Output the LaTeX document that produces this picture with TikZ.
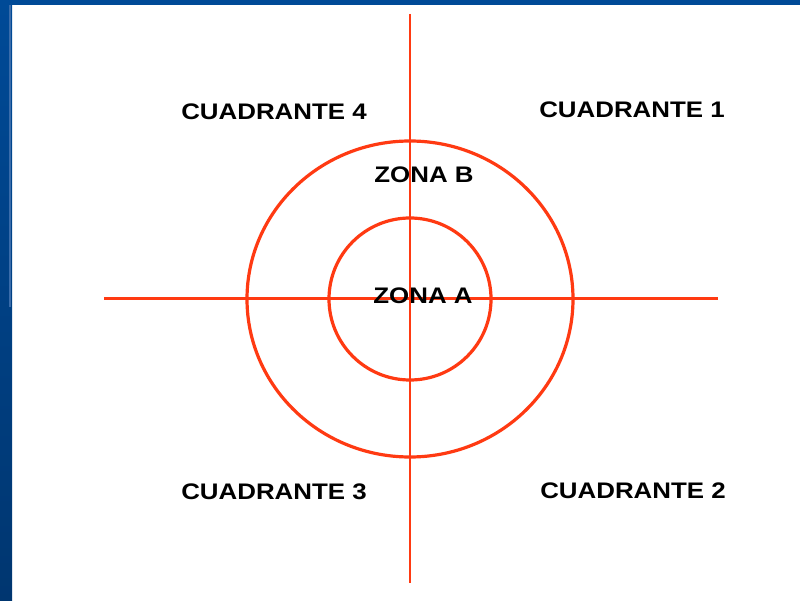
\documentclass[tikz,border=0pt]{standalone}
\usepackage{fontspec}
\setmainfont{Liberation Sans}
\newfontfamily\zonefont{Liberation Sans}[FakeStretch=1.15]
\usepackage{tikz}
\usetikzlibrary{positioning,calc}
\definecolor{frameblue}{HTML}{004A97}
\definecolor{framedark}{HTML}{003670}
\definecolor{framelight}{HTML}{3A6CAA}
\definecolor{axisred}{HTML}{FF3A12}

\begin{document}
\begin{tikzpicture}[
  x=1pt,y=-1pt,
  axis/.style={draw=axisred,line width=3pt},
  ring/.style={draw=axisred,line width=3.2pt},
  label/.style={font=\zonefont\bfseries\fontsize{22.5}{26}\selectfont,inner sep=0pt,anchor=center}
]
\useasboundingbox (0,0) rectangle (800,601);
% frame
\fill[white] (0,0) rectangle (800,601);
\shade[top color=frameblue,bottom color=framedark] (0,0) rectangle (12,601);
\fill[frameblue] (0,0) rectangle (800,5);
\fill[framelight] (9,5) rectangle (11,307);

\coordinate (c) at (410,299);
\coordinate (top) at (410,14);
\coordinate (bot) at (410,583);
\coordinate (lft) at (104,299);
\coordinate (rgt) at (718,299);

\draw[ring] (c) ellipse [x radius=163,y radius=158];
\draw[ring] (c) ellipse [x radius=81,y radius=81];
\draw[axis,line width=2.4pt] (top) -- (bot);
\draw[axis] (lft) -- (rgt);

\node[label] (q4) at (274,112) {CUADRANTE 4};
\node[label] (q1) at (632,110) {CUADRANTE 1};
\node[label] (q3) at (274,492) {CUADRANTE 3};
\node[label] (q2) at (633,491) {CUADRANTE 2};
\node[label] (zb) at (424,175) {ZONA B};
\node[label] (za) at (423,296) {ZONA A};
\end{tikzpicture}
\end{document}
